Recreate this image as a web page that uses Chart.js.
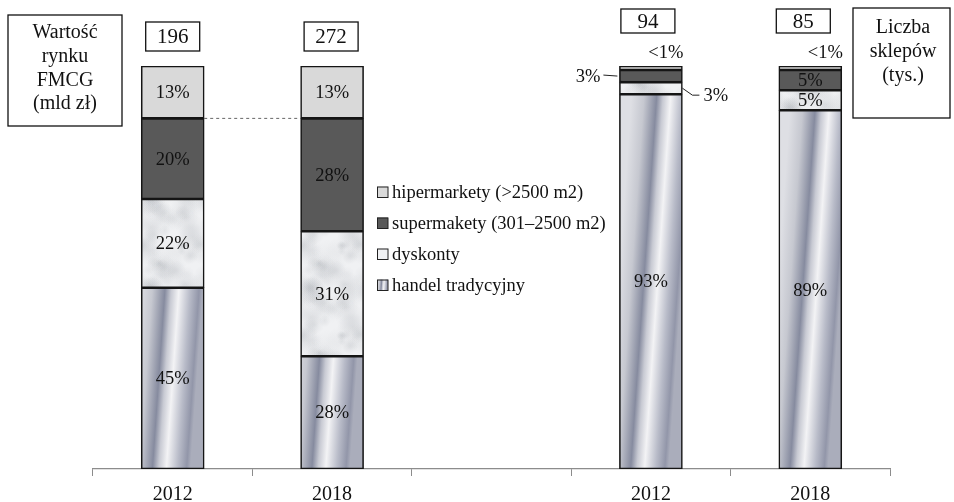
<!DOCTYPE html>
<html lang="pl">
<head>
  <meta charset="UTF-8" />
  <title>Rynek FMCG – struktura</title>
  <script src="https://cdn.jsdelivr.net/npm/chart.js"></script>
  <style>
    body { margin: 0; background: #fff; }
    #wrap { width: 954px; height: 502px; position: relative; }
  </style>
</head>
<body>
  <div id="wrap"><canvas id="fmcgChart" width="954" height="502"></canvas></div>

  <script>
    // data (shares in %, totals above the bars)
    const categories = ['2012', '2018', '', '2012', '2018'];
    const handelTradycyjny = [45, 28, null, 93, 89];
    const dyskonty = [22, 31, null, 3, 5];
    const supermarkety = [20, 28, null, 3, 5];
    const hipermarkety = [13, 13, null, 1, 1];
    const totals = [196, 272, null, 94, 85];
    const seriesNames = ['handel tradycyjny', 'dyskonty', 'supermakety (301–2500 m2)', 'hipermarkety (>2500 m2)'];

    const FONT = "'Liberation Serif', 'Times New Roman', serif";
    const BAR_W = 63;
    const canvas = document.getElementById('fmcgChart');
    const ctx = canvas.getContext('2d');

    // marble-ish texture for "dyskonty"
    function makeMarble() {
      const w = 80, h = 90;
      const cv = document.createElement('canvas');
      cv.width = w; cv.height = h;
      const g = cv.getContext('2d');
      g.fillStyle = '#f0f1f3';
      g.fillRect(0, 0, w, h);
      let s = 12345;
      const rnd = () => (s = (s * 16807) % 2147483647) / 2147483647;
      for (let i = 0; i < 70; i++) {
        const x = rnd() * w, y = rnd() * h, r = 4 + rnd() * 12, a = 0.06 + rnd() * 0.14;
        for (const ox of [-w, 0, w]) {
          for (const oy of [-h, 0, h]) {
            const rg = g.createRadialGradient(x + ox, y + oy, 0, x + ox, y + oy, r);
            rg.addColorStop(0, `rgba(150,155,162,${a})`);
            rg.addColorStop(1, 'rgba(150,155,162,0)');
            g.fillStyle = rg;
            g.fillRect(x + ox - r, y + oy - r, 2 * r, 2 * r);
          }
        }
      }
      return ctx.createPattern(cv, 'repeat');
    }
    const marble = makeMarble();

    function steelGradient(c2d, x0, x1, ym) {
      const w = x1 - x0;
      const g = c2d.createLinearGradient(x0, ym, x1, ym + w * 0.07);
      g.addColorStop(0, '#dedfe4');
      g.addColorStop(0.2, '#c6c8d0');
      g.addColorStop(0.4, '#868b9f');
      g.addColorStop(0.5, '#c8cad3');
      g.addColorStop(0.62, '#f3f3f5');
      g.addColorStop(0.8, '#b8bbc8');
      g.addColorStop(0.94, '#9296a9');
      g.addColorStop(1, '#aaadbb');
      return g;
    }

    function traditionalFill(c) {
      const chart = c.chart;
      const area = chart.chartArea;
      if (!area || !chart.scales.x) return '#b0b4c2';
      const xc = chart.scales.x.getPixelForValue(c.dataIndex);
      return steelGradient(chart.ctx, xc - BAR_W / 2, xc + BAR_W / 2, (area.top + area.bottom) / 2);
    }

    function segLabel(v) {
      return v < 1.5 ? '<1%' : v + '%';
    }

    const annotations = {
      id: 'annotations',
      afterDraw(chart) {
        const c = chart.ctx;
        const metas = [0, 1, 2, 3].map(i => chart.getDatasetMeta(i).data);
        c.save();
        c.fillStyle = '#111';
        c.textAlign = 'center';
        c.textBaseline = 'middle';

        // dashed link between supermarket tops on left pair
        const a = metas[2][0], b = metas[2][1];
        c.strokeStyle = '#666';
        c.lineWidth = 1;
        c.setLineDash([3, 3]);
        c.beginPath();
        c.moveTo(a.x + a.width / 2, a.y);
        c.lineTo(b.x - b.width / 2, b.y);
        c.stroke();
        c.setLineDash([]);

        // segment labels
        c.font = '18.5px ' + FONT;
        const sets = chart.data.datasets;
        sets.forEach((ds, di) => {
          ds.data.forEach((v, j) => {
            if (v == null) return;
            const el = metas[di][j];
            const txt = segLabel(v);
            const mid = (el.y + el.base) / 2;
            if (v < 1.5) {
              c.fillText(txt, el.x + 15, el.y - 13);
            } else if (j === 3 && v <= 3 && di === 2) {
              c.strokeStyle = '#222';
              c.beginPath();
              c.moveTo(el.x - el.width / 2 - 16, mid - 1);
              c.lineTo(el.x - el.width / 2 - 2, mid);
              c.stroke();
              c.textAlign = 'right';
              c.fillText(txt, el.x - el.width / 2 - 19, mid + 1);
              c.textAlign = 'center';
            } else if (j === 3 && v <= 3 && di === 1) {
              const xr = el.x + el.width / 2;
              c.strokeStyle = '#222';
              c.beginPath();
              c.moveTo(xr, mid);
              c.lineTo(xr + 10, mid + 7);
              c.lineTo(xr + 17, mid + 7);
              c.stroke();
              c.textAlign = 'left';
              c.fillText(txt, xr + 21, mid + 8);
              c.textAlign = 'center';
            } else {
              c.fillText(txt, el.x, mid + 1);
            }
          });
        });

        // total boxes above bars
        c.font = '21px ' + FONT;
        c.strokeStyle = '#111';
        c.lineWidth = 1.3;
        const shift = [0, -1, 0, -3, -7];
        totals.forEach((t, j) => {
          if (t == null) return;
          const el = metas[0][j];
          const cx = el.x + shift[j];
          const top = j < 2 ? 22 : 9;
          const h = j < 2 ? 29 : 24;
          c.fillStyle = '#fff';
          c.fillRect(cx - 27, top, 54, h);
          c.strokeRect(cx - 27, top, 54, h);
          c.fillStyle = '#111';
          c.fillText(String(t), cx, top + h / 2 + 1);
        });

        // side captions
        c.font = '20px ' + FONT;
        c.strokeRect(8, 15, 114, 111);
        ['Wartość', 'rynku', 'FMCG', '(mld zł)'].forEach((s, i) => c.fillText(s, 65, 33 + i * 23.7));
        c.strokeRect(853, 8, 97, 110);
        ['Liczba', 'sklepów', '(tys.)'].forEach((s, i) => c.fillText(s, 903, 28 + i * 23.8));

        // legend, top series first
        c.font = '18.5px ' + FONT;
        c.textAlign = 'left';
        const order = [3, 2, 1, 0];
        order.forEach((di, k) => {
          const y = 192 + k * 31;
          const x = 377;
          let fill = sets[di].backgroundColor;
          if (di === 0) fill = steelGradient(c, x, x + 11, y);
          if (di === 1) fill = '#f0f1f3';
          c.fillStyle = fill;
          c.fillRect(x, y - 5.5, 11, 11);
          c.lineWidth = 1;
          c.strokeStyle = '#222';
          c.strokeRect(x + 0.5, y - 5, 10.5, 10.5);
          c.fillStyle = '#111';
          c.fillText(seriesNames[di], x + 15, y + 1);
        });
        c.restore();
      }
    };

    new Chart(ctx, {
      type: 'bar',
      data: {
        labels: categories,
        datasets: [
          { label: seriesNames[0], data: handelTradycyjny, backgroundColor: traditionalFill },
          { label: seriesNames[1], data: dyskonty, backgroundColor: marble },
          { label: seriesNames[2], data: supermarkety, backgroundColor: '#595959' },
          { label: seriesNames[3], data: hipermarkety, backgroundColor: '#d9d9d9' }
        ].map(d => Object.assign(d, { borderColor: '#151515', borderWidth: 1.6, borderSkipped: false, barThickness: BAR_W }))
      },
      options: {
        responsive: false,
        animation: false,
        layout: { padding: { left: 93, right: 64, top: 66, bottom: -12 } },
        plugins: { legend: { display: false }, tooltip: { enabled: false } },
        scales: {
          x: {
            stacked: true,
            grid: { drawOnChartArea: false, tickLength: 7, color: '#8c8c8c' },
            border: { color: '#8c8c8c', width: 1.2 },
            ticks: { color: '#111', padding: 9, font: { family: FONT, size: 20, lineHeight: 1 } }
          },
          y: { stacked: true, min: 0, max: 100, display: false }
        }
      },
      plugins: [annotations]
    });
  </script>
</body>
</html>
